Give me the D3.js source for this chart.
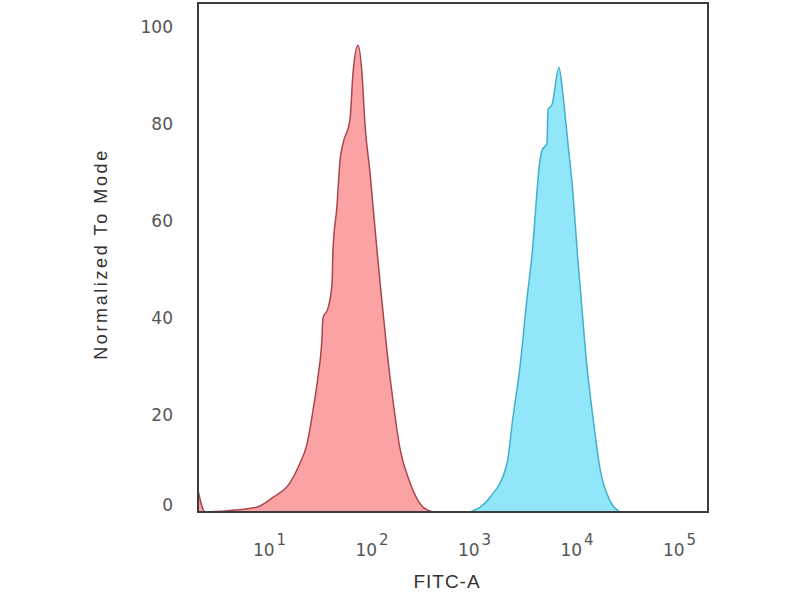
<!DOCTYPE html>
<html>
<head>
<meta charset="utf-8">
<script src="https://cdn.jsdelivr.net/npm/d3@7"></script>
<style>
  html, body { margin: 0; padding: 0; background: #fff; }
  svg { display: block; }
  text { font-family: "Liberation Sans", Arial, sans-serif; }
  .tick text { font-family: "DejaVu Sans", Verdana, sans-serif; }
</style>
</head>
<body>
<svg id="chart" width="800" height="600"></svg>
<script>
// FITC-A intensity (log axis) and normalized-to-mode counts
const isotypeFITC  = [2.03, 2.38, 4.17, 7.6, 10.9, 16.0, 20.0, 23.5, 26.9, 30.1, 32.9, 33.6, 37.6, 41.2, 42.1, 46.0, 49.3, 52.7, 61.7, 66.0, 73.9, 80.8, 86.4, 96.7, 112, 123, 142, 162, 190, 238, 318, 398];
const isotypeCount = [4.5, 0, 0.3, 1, 3, 6, 10, 14, 21, 28, 36, 40, 42, 47, 54, 63, 72.5, 76, 81, 90.5, 96.3, 90.5, 80, 70, 55, 46, 33, 23, 13, 6, 1, 0];

const antibodyFITC  = [914, 1432, 2099, 2400, 2812, 3289, 3681, 4406, 4607, 5156, 5275, 5768, 6747, 7381, 8260, 9245, 10230, 10810, 12650, 14480, 16940, 21220, 26560];
const antibodyCount = [0, 3, 10, 19.5, 30, 44, 53, 72.5, 74.6, 76, 83, 84, 91.7, 86, 76, 65.7, 53, 47, 30, 19.5, 9, 2.3, 0];

const yTicks = [0, 20, 40, 60, 80, 100];
const xTicks = [10, 100, 1000, 10000, 100000];
const xTickExponents = ["1", "2", "3", "4", "5"];

const xLabel = "FITC-A";
const yLabel = "Normalized To Mode";

(function () {
const svg = d3.select("#chart");
const pLeft = 198, pRight = 708, pTop = 3, pBottom = 512;

const x = d3.scaleLog().domain([2.03, 191900]).range([pLeft, pRight]);
const y = d3.scaleLinear().domain([0, 105]).range([pBottom, pTop]);

const area = d3.area()
  .x(d => x(d[0]))
  .y0(pBottom)
  .y1(d => y(d[1]))
  .curve(d3.curveMonotoneX);
const line = d3.line()
  .x(d => x(d[0]))
  .y(d => y(d[1]))
  .curve(d3.curveMonotoneX);

const series = [
  { fitc: isotypeFITC, count: isotypeCount, fill: "#fba3a4", stroke: "#a8464e" },
  { fitc: antibodyFITC, count: antibodyCount, fill: "#92e6f9", stroke: "#3fb2c9" }
];

svg.append("defs").append("clipPath").attr("id", "plotclip")
  .append("rect").attr("x", pLeft).attr("y", pTop).attr("width", pRight - pLeft).attr("height", pBottom - pTop);

const g = svg.append("g").attr("clip-path", "url(#plotclip)");
series.forEach(s => {
  const pts = s.fitc.map((v, i) => [v, s.count[i]]);
  g.append("path").datum(pts).attr("d", area).attr("fill", s.fill).attr("stroke", "none");
  g.append("path").datum(pts).attr("d", line).attr("fill", "none")
    .attr("stroke", s.stroke).attr("stroke-width", 1.5).attr("stroke-linejoin", "round");
});

// frame
svg.append("rect")
  .attr("x", pLeft).attr("y", pTop)
  .attr("width", pRight - pLeft).attr("height", pBottom - pTop)
  .attr("fill", "none").attr("stroke", "#3c3c3c").attr("stroke-width", 2);

// y axis (labels only)
const yAxis = d3.axisLeft(y).tickValues(yTicks).tickSize(0).tickPadding(0);
const ya = svg.append("g").attr("transform", `translate(173,0)`).call(yAxis);
ya.select(".domain").remove();
ya.selectAll("text")
  .attr("fill", "#555")
  .style("font-size", "17px")
  .attr("dy", d => d === 0 ? "-0.1em" : "0.32em");

// x axis (labels only, with superscripts)
const xAxis = d3.axisBottom(x).tickValues(xTicks).tickSize(0).tickFormat("");
const xa = svg.append("g").attr("transform", `translate(0,${pBottom})`).call(xAxis);
xa.select(".domain").remove();
xa.selectAll(".tick text").each(function(d, i) {
  const t = d3.select(this);
  t.attr("y", 44).attr("dy", 0)
    .attr("fill", "#555")
    .style("font-size", "17px")
    .attr("text-anchor", "middle");
  t.append("tspan").text("10");
  t.append("tspan").text(xTickExponents[i]).attr("dy", -11).style("font-size", "15px").attr("dx", 2);
});

// axis titles
svg.append("text")
  .attr("x", 447).attr("y", 588)
  .attr("text-anchor", "middle")
  .attr("fill", "#333")
  .style("font-size", "19px")
  .style("letter-spacing", "1px")
  .text(xLabel);

svg.append("text")
  .attr("transform", "translate(107,254) rotate(-90)")
  .attr("text-anchor", "middle")
  .attr("fill", "#333")
  .style("font-size", "18px")
  .style("letter-spacing", "2.6px")
  .text(yLabel);
})();
</script>
</body>
</html>
